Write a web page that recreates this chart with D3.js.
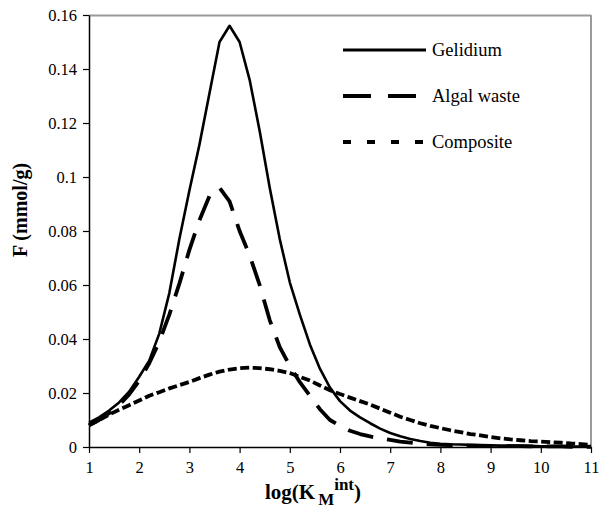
<!DOCTYPE html>
<html>
<head>
<meta charset="utf-8">
<script src="https://cdn.jsdelivr.net/npm/d3@7"></script>
<style>
  html, body { margin: 0; padding: 0; background: #fff; }
  svg { display: block; }
</style>
</head>
<body>
<svg id="chart" width="613" height="513"></svg>
<script>
// ---- data ----
const xValues = [1.0,1.2,1.4,1.6,1.8,2.0,2.2,2.4,2.6,2.8,3.0,3.2,3.4,3.6,3.8,4.0,4.2,4.4,4.6,4.8,5.0,5.2,5.4,5.6,5.8,6.0,6.2,6.4,6.6,6.8,7.0,7.2,7.4,7.6,7.8,8.0,8.2,8.4,8.6,8.8,9.0,9.2,9.4,9.6,9.8,10.0,10.2,10.4,10.6,10.8,11.0];
const gelidium = [0.009,0.011,0.0135,0.0165,0.0205,0.026,0.032,0.042,0.057,0.077,0.095,0.112,0.131,0.150,0.156,0.150,0.136,0.117,0.096,0.077,0.061,0.049,0.038,0.029,0.022,0.017,0.0135,0.011,0.0088,0.0068,0.0052,0.004,0.003,0.0022,0.0016,0.0012,0.001,0.0009,0.0008,0.0007,0.0006,0.0005,0.0005,0.0004,0.0004,0.0003,0.0003,0.0003,0.0002,0.0002,0.0002];
const algalWaste = [0.008,0.010,0.0125,0.0155,0.0195,0.0245,0.031,0.039,0.049,0.0605,0.073,0.084,0.093,0.096,0.091,0.080,0.071,0.060,0.047,0.037,0.030,0.024,0.019,0.014,0.010,0.0078,0.006,0.0048,0.0039,0.0032,0.0026,0.002,0.0016,0.0012,0.001,0.0008,0.0007,0.0006,0.0005,0.0004,0.0004,0.0003,0.0003,0.0003,0.0002,0.0002,0.0002,0.0002,0.0001,0.0001,0.0001];
const composite = [0.008,0.010,0.012,0.0138,0.0155,0.0172,0.019,0.0203,0.0217,0.0229,0.0241,0.0255,0.0268,0.0279,0.0287,0.0292,0.0294,0.0292,0.0288,0.0282,0.0274,0.026,0.0246,0.0228,0.021,0.0196,0.0183,0.017,0.0157,0.0142,0.0127,0.0112,0.0100,0.0088,0.0078,0.0070,0.0062,0.0055,0.0048,0.0043,0.0037,0.0032,0.0028,0.0025,0.0022,0.0020,0.0018,0.0016,0.0013,0.0011,0.0007];
const seriesNames = ["Gelidium", "Algal waste", "Composite"];
const xTicks = [1,2,3,4,5,6,7,8,9,10,11];
const yTicks = [0,0.02,0.04,0.06,0.08,0.1,0.12,0.14,0.16];
const yTickLabels = ["0","0.02","0.04","0.06","0.08","0.1","0.12","0.14","0.16"];

// ---- layout ----
const FONT = "Liberation Serif";
const svg = d3.select("#chart");
const M = {left: 89, top: 15, right: 22, bottom: 66};
const W = 613 - M.left - M.right;
const H = 513 - M.top - M.bottom;

const x = d3.scaleLinear().domain([1, 11]).range([0, W]);
const y = d3.scaleLinear().domain([0, 0.16]).range([H, 0]);

const g = svg.append("g").attr("transform", `translate(${M.left},${M.top})`);

// frame (top/right gray)
g.append("line").attr("x1", 0).attr("x2", W).attr("y1", 0.5).attr("y2", 0.5)
  .attr("stroke", "#9a9a9a").attr("stroke-width", 2);
g.append("line").attr("x1", W).attr("x2", W).attr("y1", 0).attr("y2", H)
  .attr("stroke", "#9a9a9a").attr("stroke-width", 2);

// axes
const xAxis = d3.axisBottom(x).tickValues(xTicks).tickSize(6).tickSizeOuter(0).tickFormat(d3.format("d"));
const yAxis = d3.axisLeft(y).tickValues(yTicks).tickSize(6).tickSizeOuter(0)
  .tickFormat((d, i) => yTickLabels[i]);

const gx = g.append("g").attr("transform", `translate(0,${H})`).call(xAxis);
const gy = g.append("g").call(yAxis);
[gx, gy].forEach(a => {
  a.attr("font-family", FONT).attr("font-size", 16.5);
  a.select(".domain").attr("stroke", "#000").attr("stroke-width", 1.5);
  a.selectAll(".tick line").attr("stroke", "#000").attr("stroke-width", 1.2);
  a.selectAll(".tick text").attr("font-family", FONT)
    .attr("font-size", 16.5).attr("fill", "#000");
});
gx.selectAll(".tick text").attr("dy", "1.02em");
gy.selectAll(".tick text").attr("x", -12).attr("dy", "0.34em");

// lines
const line = d3.line().x((d, i) => x(xValues[i])).y(d => y(d)).curve(d3.curveLinear);
const styles = [
  {data: gelidium, dash: null, w: 2.6},
  {data: algalWaste, dash: "26,14", w: 3.8},
  {data: composite, dash: "9,3.5", w: 3.8}
];
styles.forEach(s => {
  g.append("path").datum(s.data).attr("d", line)
    .attr("fill", "none").attr("stroke", "#000").attr("stroke-width", s.w)
    .attr("stroke-linejoin", "round")
    .attr("stroke-dasharray", s.dash);
});

// legend
const legendDash = [null, "28,17", "8,16"];
const legendY = [50, 96, 142];
const legendX2 = [426, 417, 426];
seriesNames.forEach((name, i) => {
  svg.append("line").attr("x1", 343).attr("x2", legendX2[i])
    .attr("y1", legendY[i]).attr("y2", legendY[i])
    .attr("stroke", "#000").attr("stroke-width", i === 0 ? 3 : 3.8)
    .attr("stroke-dasharray", legendDash[i]);
  svg.append("text").attr("x", 432).attr("y", legendY[i] + 6)
    .attr("font-family", FONT).attr("font-size", 18.5).text(name);
});

// axis titles
svg.append("text")
  .attr("transform", `translate(27,210) rotate(-90)`)
  .attr("text-anchor", "middle").attr("font-weight", "bold").attr("font-size", 20)
  .attr("font-family", FONT)
  .text("F (mmol/g)");

const xt = svg.append("text").attr("x", 313).attr("y", 499)
  .attr("text-anchor", "middle").attr("font-weight", "bold").attr("font-size", 21)
  .attr("font-family", FONT);
xt.append("tspan").text("log(K");
xt.append("tspan").attr("font-size", 17).attr("dx", 3).attr("dy", 6).text("M");
xt.append("tspan").attr("font-size", 17).attr("dy", -15).text("int");
xt.append("tspan").attr("dy", 9).text(")");
</script>
</body>
</html>
